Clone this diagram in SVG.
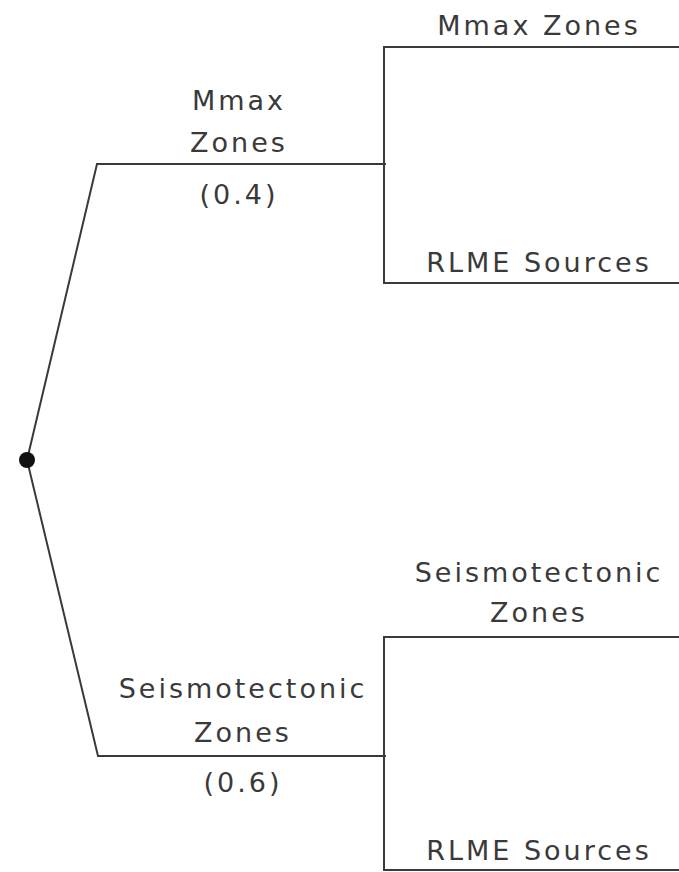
<svg xmlns="http://www.w3.org/2000/svg" width="679" height="872" viewBox="0 0 679 872">
<style>
.ln{stroke:#3a3a3a;stroke-width:2;fill:none;stroke-linecap:square}
.t{font-family:"DejaVu Sans",sans-serif;font-size:27px;fill:#3a3a3a;text-anchor:middle;letter-spacing:3px}
</style>
<rect width="679" height="872" fill="#fff"/>
<g id="connectors">
<path class="ln" d="M27,460 L97,164 L385,164"/>
<path class="ln" d="M27,460 L98,756 L385,756"/>
</g>
<g id="root"><circle cx="27" cy="460" r="8" fill="#111"/></g>
<g id="branch-mmax">
<text class="t" x="239" y="110">Mmax</text>
<text class="t" x="239" y="152">Zones</text>
<text class="t" x="239" y="204">(0.4)</text>
</g>
<g id="branch-seis">
<text class="t" x="243" y="698">Seismotectonic</text>
<text class="t" x="243" y="742">Zones</text>
<text class="t" x="243" y="792">(0.6)</text>
</g>
<g id="box-top">
<path class="ln" d="M680,47 L384,47 L384,283 L680,283"/>
<text class="t" x="539" y="35">Mmax Zones</text>
<text class="t" x="539" y="272">RLME Sources</text>
</g>
<g id="box-bottom">
<path class="ln" d="M680,637 L384,637 L384,870 L680,870"/>
<text class="t" x="539" y="582">Seismotectonic</text>
<text class="t" x="539" y="622">Zones</text>
<text class="t" x="539" y="860">RLME Sources</text>
</g>
</svg>
